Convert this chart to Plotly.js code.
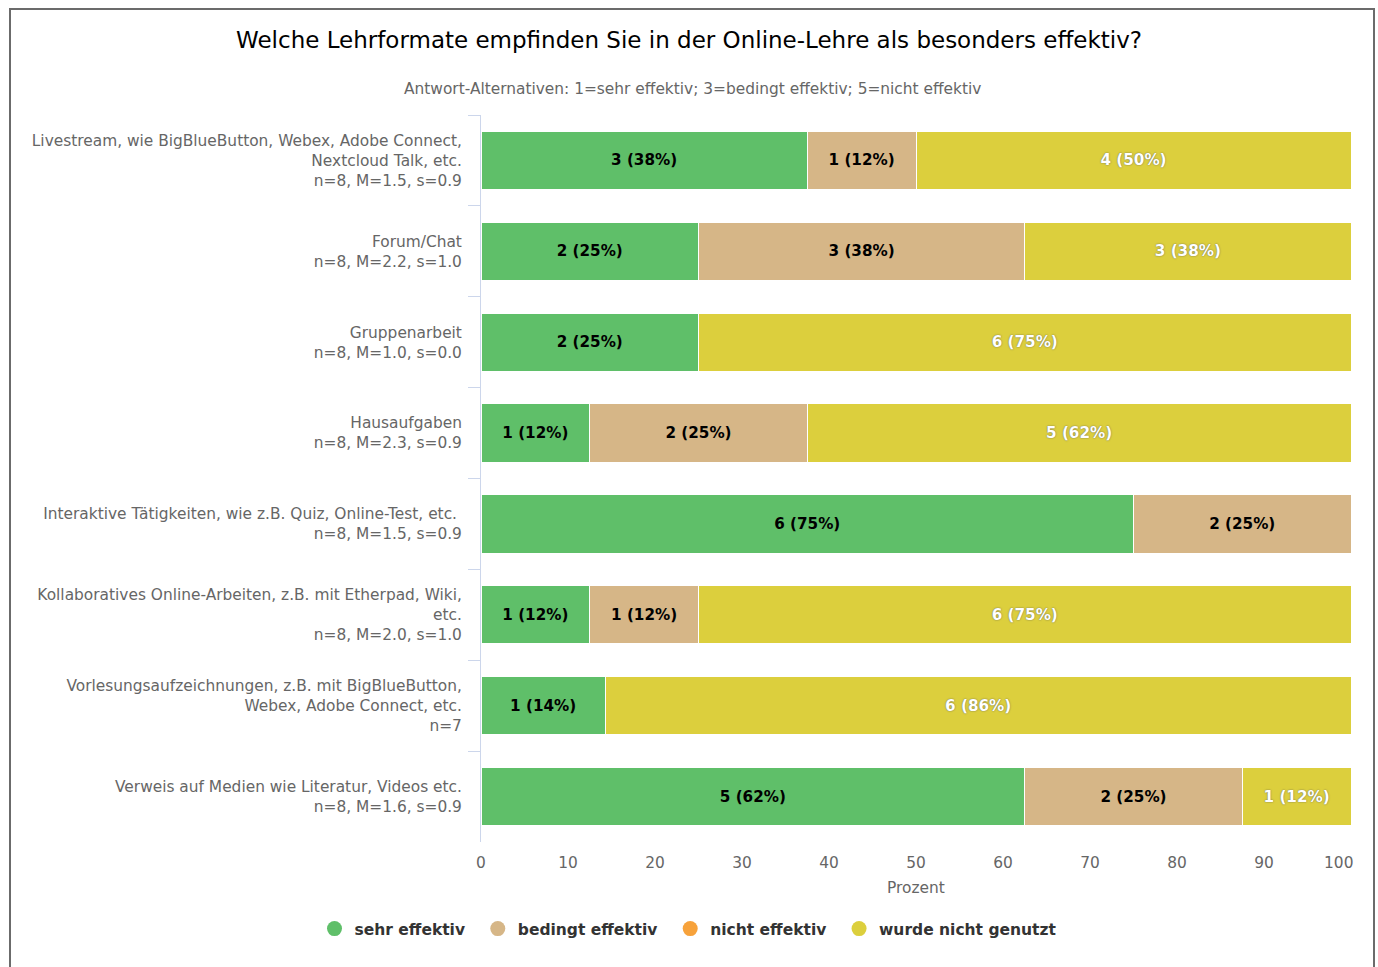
<!DOCTYPE html>
<html>
<head>
<meta charset="utf-8">
<script src="https://cdn.plot.ly/plotly-3.0.1.min.js"></script>
<style>
html, body { margin: 0; padding: 0; background: #fff; }
#chart { width: 1378px; height: 967px; position: absolute; left: 0; top: 0; }
#frame { position: absolute; left: 9px; top: 8px; width: 1362px; height: 1000px; border: 2px solid #6b6b6b; pointer-events: none; }
</style>
</head>
<body>
<div id="chart"></div>
<div id="frame"></div>
<script>
const categories = [
  "Livestream, wie BigBlueButton, Webex, Adobe Connect,<br>Nextcloud Talk, etc.<br>n=8, M=1.5, s=0.9",
  "Forum/Chat<br>n=8, M=2.2, s=1.0",
  "Gruppenarbeit<br>n=8, M=1.0, s=0.0",
  "Hausaufgaben<br>n=8, M=2.3, s=0.9",
  "Interaktive Tätigkeiten, wie z.B. Quiz, Online-Test, etc.&nbsp;<br>n=8, M=1.5, s=0.9",
  "Kollaboratives Online-Arbeiten, z.B. mit Etherpad, Wiki,<br>etc.<br>n=8, M=2.0, s=1.0",
  "Vorlesungsaufzeichnungen, z.B. mit BigBlueButton,<br>Webex, Adobe Connect, etc.<br>n=7",
  "Verweis auf Medien wie Literatur, Videos etc.<br>n=8, M=1.6, s=0.9"
];
const nTotal = [8, 8, 8, 8, 8, 8, 7, 8];

const seriesNames = ["sehr effektiv", "bedingt effektiv", "nicht effektiv", "wurde nicht genutzt"];
const seriesColors = ["#5fbf69", "#d6b687", "#f7a23b", "#dccf3d"];

const countSehr     = [3, 2, 2, 1, 6, 1, 1, 5];
const countBedingt  = [1, 3, 0, 2, 2, 1, 0, 2];
const countNicht    = [0, 0, 0, 0, 0, 0, 0, 0];
const countGenutzt  = [4, 3, 6, 5, 0, 6, 6, 1];

const pctSehr    = [38, 25, 25, 12, 75, 12, 14, 62];
const pctBedingt = [12, 38, 0, 25, 25, 12, 0, 25];
const pctNicht   = [0, 0, 0, 0, 0, 0, 0, 0];
const pctGenutzt = [50, 38, 75, 62, 0, 75, 86, 12];

const xTicks = [0, 10, 20, 30, 40, 50, 60, 70, 80, 90, 100];
const xTickText = ["0", "10", "20", "30", "40", "50", "60", "70", "80", "90", "100"];

const counts = [countSehr, countBedingt, countNicht, countGenutzt];
const pcts = [pctSehr, pctBedingt, pctNicht, pctGenutzt];

const FONT = "DejaVu Sans, Verdana, sans-serif";
const GRAY = "#666666";
const LBL = 15.4;

const traces = [];
counts.forEach((cs, si) => {
  const x = cs.map((c, i) => c / nTotal[i] * 100);
  const text = cs.map((c, i) => c > 0 ? c + " (" + pcts[si][i] + "%)" : "");
  const isYellow = si === 3;
  traces.push({
    type: "bar",
    orientation: "h",
    name: seriesNames[si],
    y: categories,
    x: x,
    text: text,
    textposition: "inside",
    insidetextanchor: "middle",
    constraintext: "none",
    textangle: 0,
    textfont: isYellow
      ? {family: FONT, size: 15.2, color: "#ffffff", weight: "bold", shadow: "0px 0px 1.5px #555"}
      : {family: FONT, size: 15.2, color: "#000000", weight: "bold"},
    marker: {color: seriesColors[si], line: {color: "#ffffff", width: 1}},
    showlegend: false,
    hoverinfo: "none"
  });
});
// legend entries with circle symbols
seriesNames.forEach((nm, si) => {
  traces.push({
    type: "scatter",
    mode: "markers",
    name: nm + "\u2002",
    x: [null],
    y: [null],
    marker: {color: seriesColors[si], size: 15, symbol: "circle"},
    showlegend: true,
    hoverinfo: "none"
  });
});

// shift the last x tick label left like the reference (kept inside plot)
const xTickLabels = xTickText.map((t, i) => i === xTickText.length - 1 ? t + "\u00a0\u00a0\u00a0\u00a0\u00a0" : t);

const layout = {
  width: 1378,
  height: 967,
  barmode: "stack",
  bargap: 0.36,
  paper_bgcolor: "rgba(0,0,0,0)",
  plot_bgcolor: "rgba(0,0,0,0)",
  font: {family: FONT, color: GRAY},
  margin: {l: 481, r: 27, t: 115, b: 125, pad: 0},
  title: {
    text: "Welche Lehrformate empfinden Sie in der Online-Lehre als besonders effektiv?",
    font: {family: FONT, size: 23, color: "#000000"},
    x: 0.5, xref: "container", xanchor: "center",
    y: 1 - 40 / 967, yref: "container", yanchor: "middle"
  },
  annotations: [{
    text: "Antwort-Alternativen: 1=sehr effektiv; 3=bedingt effektiv; 5=nicht effektiv",
    xref: "paper", yref: "paper",
    x: (692 - 481) / 870, y: (842 - 89) / 727,
    xanchor: "center", yanchor: "middle",
    showarrow: false,
    font: {family: FONT, size: LBL, color: GRAY}
  }],
  xaxis: {
    range: [0, 100],
    tickvals: xTicks,
    ticktext: xTickLabels,
    ticklabeloverflow: "allow",
    showgrid: false,
    zeroline: false,
    showline: false,
    ticks: "",
    tickfont: {family: FONT, size: LBL, color: GRAY},
    ticklabelstandoff: 10,
    title: {text: "Prozent", font: {family: FONT, size: LBL, color: GRAY}, standoff: 10},
    fixedrange: true
  },
  yaxis: {
    type: "category",
    autorange: "reversed",
    showgrid: false,
    zeroline: false,
    showline: true,
    linecolor: "#ccd6eb",
    linewidth: 1,
    ticks: "outside",
    tickson: "boundaries",
    ticklen: 12,
    tickcolor: "#ccd6eb",
    tickwidth: 1,
    ticklabelstandoff: 15,
    tickfont: {family: FONT, size: LBL, color: GRAY},
    fixedrange: true
  },
  legend: {
    orientation: "h",
    traceorder: "normal",
    x: (692 - 481) / 870,
    xanchor: "center",
    y: (842 - 929) / 727,
    yanchor: "middle",
    font: {family: FONT, size: 15.5, color: "#333333", weight: "bold"},
    itemclick: false,
    itemdoubleclick: false
  },
  hovermode: false
};

Plotly.newPlot("chart", traces, layout, {displayModeBar: false, staticPlot: true});
</script>
</body>
</html>
